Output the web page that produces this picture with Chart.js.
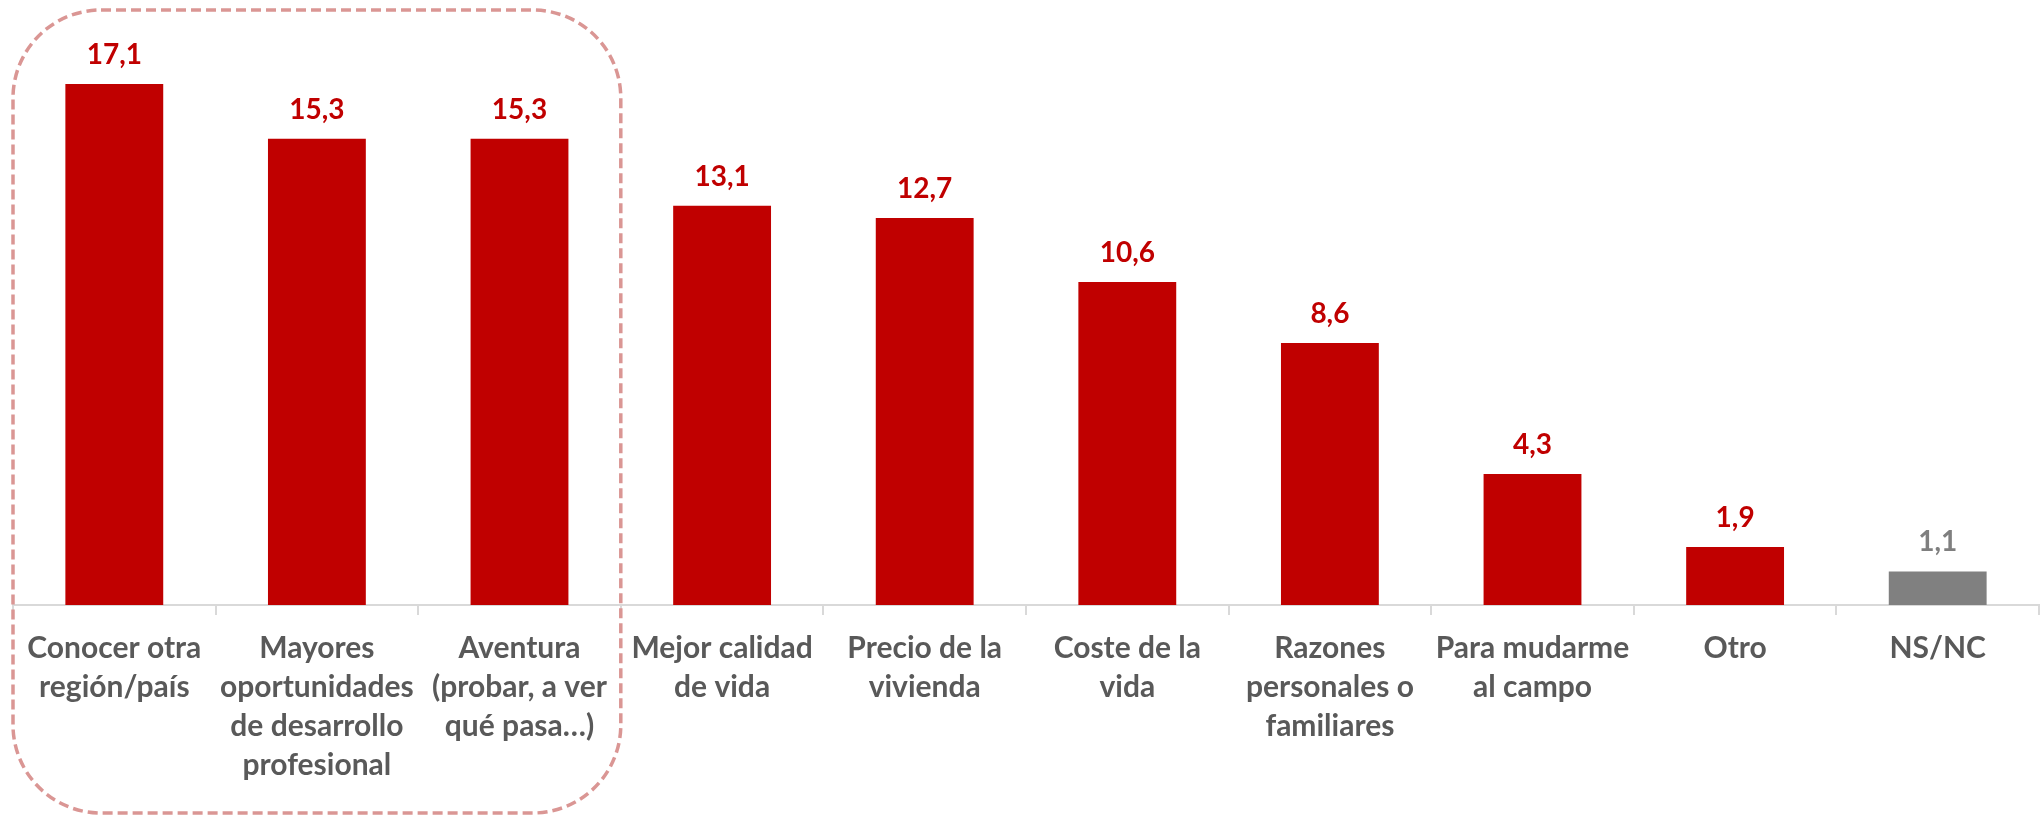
<!DOCTYPE html>
<html>
<head>
<meta charset="utf-8">
<script src="https://cdn.jsdelivr.net/npm/chart.js@4.4.1/dist/chart.umd.min.js"></script>
<style>
  html, body { margin: 0; padding: 0; background: #ffffff; }
  #wrap { width: 2044px; height: 816px; }
</style>
</head>
<body>
<div id="wrap"><canvas id="c" width="2044" height="816"></canvas></div>
<script>
const categories = [
  ["Conocer otra", "región/país"],
  ["Mayores", "oportunidades", "de desarrollo", "profesional"],
  ["Aventura", "(probar, a ver", "qué pasa…)"],
  ["Mejor calidad", "de vida"],
  ["Precio de la", "vivienda"],
  ["Coste de la", "vida"],
  ["Razones", "personales o", "familiares"],
  ["Para mudarme", "al campo"],
  ["Otro"],
  ["NS/NC"]
];
const values = [17.1, 15.3, 15.3, 13.1, 12.7, 10.6, 8.6, 4.3, 1.9, 1.1];
const barColors = ["#C00000", "#C00000", "#C00000", "#C00000", "#C00000", "#C00000", "#C00000", "#C00000", "#C00000", "#808080"];
const labelColors = ["#C00000", "#C00000", "#C00000", "#C00000", "#C00000", "#C00000", "#C00000", "#C00000", "#C00000", "#7F7F7F"];
const highlightedCount = 3;

const valueLabels = {
  id: 'valueLabels',
  afterDatasetsDraw(chart) {
    const ctx = chart.ctx;
    const meta = chart.getDatasetMeta(0);
    ctx.save();
    ctx.font = 'bold 28px Lato';
    ctx.textAlign = 'center';
    ctx.textBaseline = 'alphabetic';
    meta.data.forEach((bar, i) => {
      ctx.fillStyle = labelColors[i];
      ctx.fillText(values[i].toFixed(1).replace('.', ','), bar.x, bar.y - 20);
    });
    ctx.restore();
  }
};

const highlightBox = {
  id: 'highlightBox',
  afterDraw(chart) {
    const ctx = chart.ctx;
    const xs = chart.scales.x;
    const half = (xs.getPixelForValue(1) - xs.getPixelForValue(0)) / 2;
    const left = xs.getPixelForValue(0) - half;
    const right = xs.getPixelForValue(highlightedCount - 1) + half;
    ctx.save();
    ctx.strokeStyle = '#DA9694';
    ctx.lineWidth = 3.5;
    ctx.setLineDash([10, 5]);
    ctx.beginPath();
    ctx.roundRect(left, 10, right - left, 803, 88);
    ctx.stroke();
    ctx.restore();
  }
};

new Chart(document.getElementById('c'), {
  type: 'bar',
  data: {
    labels: categories,
    datasets: [{
      data: values,
      backgroundColor: barColors,
      borderWidth: 0,
      barPercentage: 0.483,
      categoryPercentage: 1.0
    }]
  },
  options: {
    responsive: false,
    animation: false,
    layout: { padding: { top: 26, left: 13, right: 5, bottom: 0 } },
    plugins: { legend: { display: false }, tooltip: { enabled: false } },
    scales: {
      y: { display: false, min: 0, max: 19 },
      x: {
        offset: true,
        grid: { display: true, offset: true, drawOnChartArea: false, drawTicks: true, tickLength: 10, color: '#D9D9D9', lineWidth: 2 },
        border: { display: true, color: '#D9D9D9', width: 2 },
        ticks: {
          autoSkip: false,
          maxRotation: 0,
          minRotation: 0,
          padding: 14,
          color: '#595959',
          font: { family: 'Lato', weight: 'bold', size: 30, lineHeight: 1.3 }
        },
        afterFit(scale) { scale.height = 211; }
      }
    }
  },
  plugins: [valueLabels, highlightBox]
});
</script>
</body>
</html>
